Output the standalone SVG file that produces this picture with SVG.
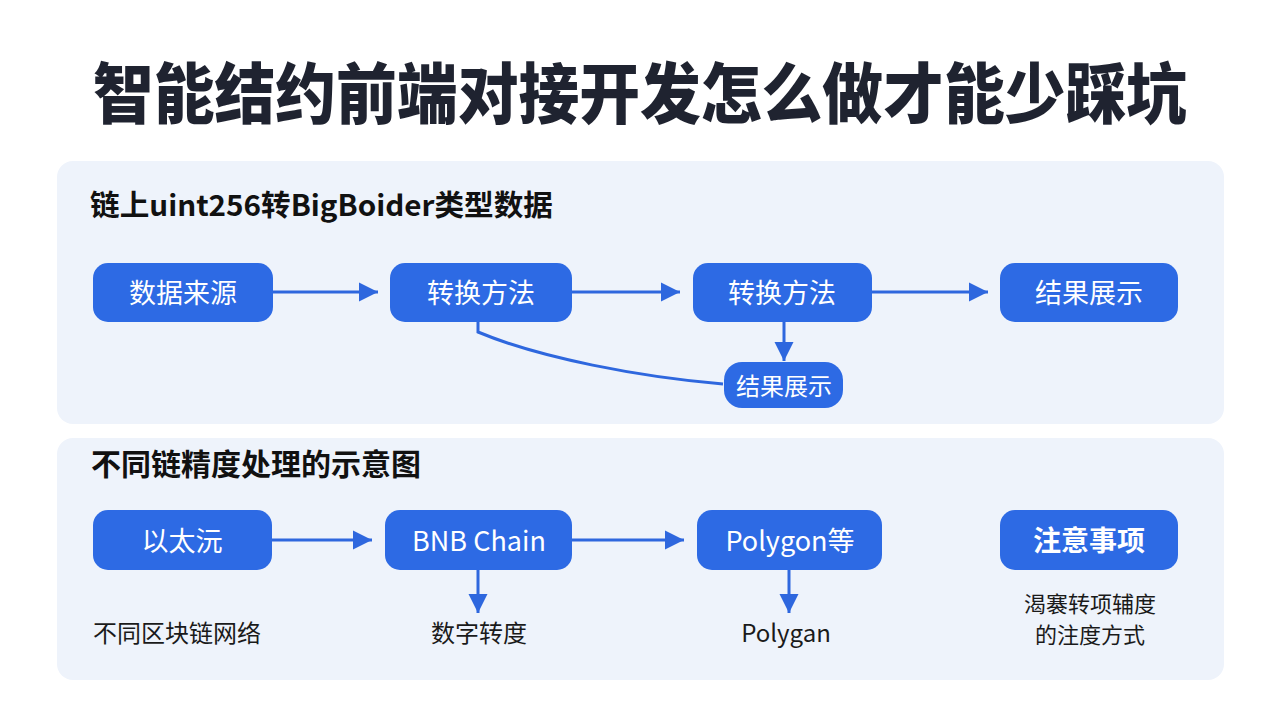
<svg xmlns="http://www.w3.org/2000/svg" width="1280" height="720" viewBox="0 0 1280 720">
<defs>
<marker id="ah" viewBox="0 0 10 10" refX="10" refY="5" markerWidth="6.5" markerHeight="6.5" markerUnits="strokeWidth" orient="auto">
<path d="M0,0 L10,5 L0,10 z" fill="#2e67de"/>
</marker>
<style>
.cjk{font-family:"Noto Sans CJK SC","Noto Sans",sans-serif;}
.title{font-size:66px;font-weight:900;fill:#1f2330;}
.sub{font-weight:700;fill:#111;}
.panel{fill:#eef3fb;}
.node{fill:#2d6ae4;}
.nt{fill:#fff;font-size:27px;text-anchor:middle;dominant-baseline:central;}
.lbl{fill:#1a1a1a;font-size:24px;}
.conn{stroke:#2e67de;stroke-width:3;fill:none;}
</style>
</defs>
<rect width="1280" height="720" fill="#ffffff"/>
<text class="cjk title" x="93" y="118" textLength="1094" lengthAdjust="spacingAndGlyphs">智能结约前端对接开发怎么做才能少踩坑</text>

<rect class="panel" x="57" y="161" width="1167" height="263" rx="16"/>
<rect class="panel" x="57" y="438" width="1167" height="242" rx="16"/>
<text class="cjk sub" x="90" y="216" font-size="29" textLength="463" lengthAdjust="spacingAndGlyphs">链上uint256转BigBoider类型数据</text>
<text class="cjk sub" x="91" y="475" font-size="30">不同链精度处理的示意图</text>

<g id="connectors">
<line class="conn" x1="273" y1="292" x2="378" y2="292" marker-end="url(#ah)"/>
<line class="conn" x1="572" y1="292" x2="680" y2="292" marker-end="url(#ah)"/>
<line class="conn" x1="872" y1="292" x2="988" y2="292" marker-end="url(#ah)"/>
<line class="conn" x1="784" y1="322" x2="784" y2="361" marker-end="url(#ah)"/>
<path class="conn" d="M478,322 V332 C540,358 640,377 723,384" stroke-width="2.5"/>
<line class="conn" x1="272" y1="540" x2="372" y2="540" marker-end="url(#ah)"/>
<line class="conn" x1="572" y1="540" x2="684" y2="540" marker-end="url(#ah)"/>
<line class="conn" x1="478" y1="570" x2="478" y2="613" marker-end="url(#ah)"/>
<line class="conn" x1="789" y1="570" x2="789" y2="613" marker-end="url(#ah)"/>
</g>

<g id="n-source"><rect class="node" x="93" y="263" width="180" height="59" rx="15"/><text class="cjk nt" x="183" y="291">数据来源</text></g>
<g id="n-convert1"><rect class="node" x="390" y="263" width="182" height="59" rx="15"/><text class="cjk nt" x="481" y="291">转换方法</text></g>
<g id="n-convert2"><rect class="node" x="693" y="263" width="179" height="59" rx="15"/><text class="cjk nt" x="782" y="291">转换方法</text></g>
<g id="n-result"><rect class="node" x="1000" y="263" width="178" height="59" rx="15"/><text class="cjk nt" x="1089" y="291">结果展示</text></g>
<g id="n-result-small"><rect class="node" x="724" y="362" width="119" height="46" rx="18"/><text class="cjk nt" x="784" y="384" style="font-size:24px">结果展示</text></g>

<g id="n-eth"><rect class="node" x="93" y="510" width="179" height="60" rx="15"/><text class="cjk nt" x="182" y="539">以太沅</text></g>
<g id="n-bnb"><rect class="node" x="385" y="510" width="187" height="60" rx="15"/><text class="cjk nt" x="479" y="539">BNB Chain</text></g>
<g id="n-polygon"><rect class="node" x="697" y="510" width="185" height="60" rx="15"/><text class="cjk nt" x="790" y="539">Polygon等</text></g>
<g id="n-notes"><rect class="node" x="1000" y="510" width="178" height="60" rx="15"/><text class="cjk nt" x="1089" y="539" style="font-size:28px;font-weight:700">注意事项</text></g>

<g id="l-networks"><text class="cjk lbl" x="93" y="642">不同区块链网络</text></g>
<g id="l-digits"><text class="cjk lbl" x="479" y="642" text-anchor="middle">数字转度</text></g>
<g id="l-polygan"><text class="cjk lbl" x="786" y="642" text-anchor="middle">Polygan</text></g>
<g id="l-notes"><text class="cjk lbl" x="1090" y="612" text-anchor="middle" style="font-size:22px">渴褰转项辅度</text><text class="cjk lbl" x="1090" y="643" text-anchor="middle" style="font-size:22px">的注度方式</text></g>
</svg>
